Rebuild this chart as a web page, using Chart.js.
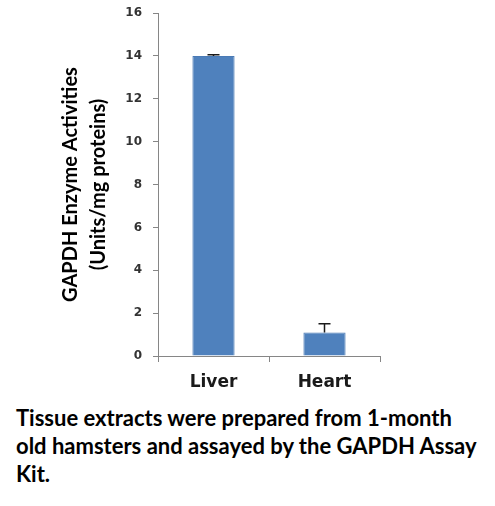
<!DOCTYPE html>
<html>
<head>
<meta charset="utf-8">
<script src="https://cdn.jsdelivr.net/npm/chart.js@4.4.0/dist/chart.umd.min.js"></script>
<style>
  body { margin: 0; background: #fff; }
  #wrap { position: relative; width: 495px; height: 400px; }
  #caption {
    position: absolute; left: 16px; top: 404px;
    font-family: Lato; font-weight: bold; font-size: 22px; line-height: 28px; color: #000;
    white-space: nowrap;
  }
</style>
</head>
<body>
<div id="wrap"><canvas id="chartGapdh"></canvas></div>
<div id="caption">Tissue extracts were prepared from 1-month<br>old hamsters and assayed by the GAPDH Assay<br>Kit.</div>
<script>
// data
const tissues = ['Liver', 'Heart'];
const activities = [14.0, 1.1];
const errors = [0.05, 0.4];
const yTicks = [0, 2, 4, 6, 8, 10, 12, 14, 16];

const axisGrey = '#868686';

// plus-only error bars, excel style
const errorBars = {
    id: 'errorBars',
    afterDatasetsDraw(chart) {
        const ctx = chart.ctx;
        const yScale = chart.scales.y;
        const meta = chart.getDatasetMeta(0);
        ctx.save();
        ctx.strokeStyle = '#1a1a1a';
        ctx.lineWidth = 1.5;
        meta.data.forEach((bar, i) => {
            const top = yScale.getPixelForValue(activities[i] + errors[i]);
            ctx.beginPath();
            ctx.moveTo(bar.x, bar.y);
            ctx.lineTo(bar.x, top);
            ctx.moveTo(bar.x - 6, top);
            ctx.lineTo(bar.x + 6, top);
            ctx.stroke();
        });
        ctx.restore();
    }
};

const ctx = document.getElementById('chartGapdh').getContext('2d');
new Chart(ctx, {
    type: 'bar',
    data: {
        labels: tissues,
        datasets: [{
            data: activities,
            backgroundColor: '#4f81bd',
            borderColor: '#4a7ab5',
            borderWidth: 1,
            categoryPercentage: 1,
            barPercentage: 0.38
        }]
    },
    options: {
        responsive: true,
        maintainAspectRatio: false,
        animation: false,
        layout: { padding: { top: 0, right: 115, bottom: 0, left: 0 } },
        plugins: {
            legend: { display: false },
            tooltip: { enabled: false }
        },
        scales: {
            x: {
                grid: { drawOnChartArea: false, drawTicks: true, tickLength: 6, color: axisGrey, offset: true },
                border: { color: axisGrey, width: 1 },
                ticks: { font: { family: 'DejaVu Sans', size: 17, weight: 'bold' }, color: '#1a1a1a', padding: 10 },
                afterFit: s => { s.height = 44; }
            },
            y: {
                min: 0,
                max: 16,
                grid: { drawOnChartArea: false, tickLength: 5, color: axisGrey },
                border: { color: axisGrey, width: 1 },
                ticks: { font: { family: 'DejaVu Sans', size: 12, weight: 'bold' }, color: '#333', padding: 11 },
                title: {
                    display: true,
                    text: ['GAPDH Enzyme Activities', '(Units/mg proteins)'],
                    font: { family: 'Lato', size: 20, weight: 'bold', lineHeight: 1.4 },
                    color: '#000',
                    padding: { top: 57, bottom: 0 }
                },
                afterBuildTicks: s => { s.ticks = yTicks.map(v => ({ value: v })); },
                afterFit: s => {
                    s.width = 158;
                    s.paddingTop = 13; // plot top sits at y=13 in the figure
                }
            }
        }
    },
    plugins: [errorBars]
});
</script>
</body>
</html>
